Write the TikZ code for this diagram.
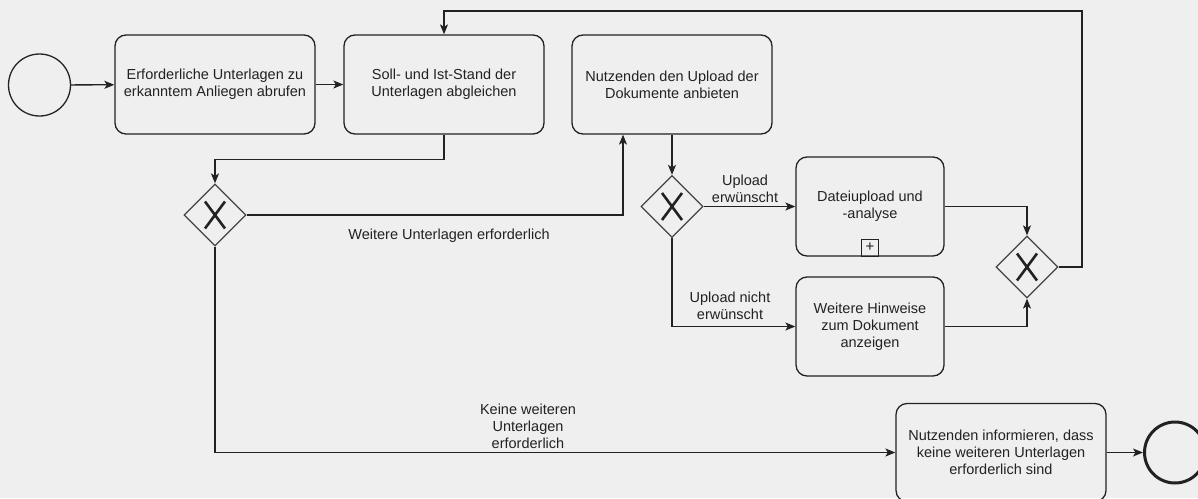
\documentclass[tikz,border=0pt]{standalone}
\usepackage{fontspec}
\setmainfont{Liberation Sans}
\usetikzlibrary{shapes.geometric,arrows.meta}
\definecolor{bg}{RGB}{239,239,239}
\definecolor{ink}{HTML}{222222}
\definecolor{gink}{HTML}{444444}
\tikzset{
  lbl/.style={font=\fontsize{14.5}{17}\selectfont, text=ink, align=center, inner sep=0pt},
  task/.style={draw=ink, line width=1.3pt, rounded corners=11pt, minimum width=200pt, minimum height=99pt, inner sep=0pt, lbl},
  gate/.style={draw=gink, line width=1.3pt, diamond, minimum width=62pt, minimum height=62pt, inner sep=0pt, aspect=1},
  flow/.style={draw=ink, line width=1.3pt, -{Stealth[length=10pt,width=8pt,inset=2.5pt]}},
  xmark/.style={draw=ink, line width=2.6pt}
}
\newcommand{\gatex}[1]{\draw[xmark] ([shift={(-10pt,-13.5pt)}]#1.center) -- ([shift={(10pt,13.5pt)}]#1.center);
  \draw[xmark] ([shift={(-10pt,13.5pt)}]#1.center) -- ([shift={(10pt,-13.5pt)}]#1.center);}
\begin{document}
\begin{tikzpicture}[x=1pt,y=-1pt]
\fill[bg] (0,0) rectangle (1198,498);
\clip (0,0) rectangle (1198,498);
% events
\node[circle, draw=ink, line width=1.3pt, minimum size=62pt, inner sep=0pt] (start) at (39.5,85) {};
\node[circle, draw=ink, line width=3pt, minimum size=61pt, inner sep=0pt] (end) at (1175,452.5) {};
% tasks
\node[task] (t1) at (215,84.5) {Erforderliche Unterlagen zu\\erkanntem Anliegen abrufen};
\node[task] (t2) at (444,84.5) {Soll- und Ist-Stand der\\Unterlagen abgleichen};
\node[task] (t3) at (672,84.5) {Nutzenden den Upload der\\Dokumente anbieten};
\node[task, minimum width=148pt] (t4) at (870,206.5) {Dateiupload und\\-analyse};
\node[task, minimum width=148pt] (t5) at (870,326.5) {Weitere Hinweise\\zum Dokument\\anzeigen};
\node[task, minimum width=210pt, minimum height=98pt] (t6) at (1001,452.5) {Nutzenden informieren, dass\\keine weiteren Unterlagen\\erforderlich sind};
% subprocess marker
\node[draw=ink, line width=1pt, minimum size=17pt, inner sep=0pt, anchor=south, font=\fontsize{15}{15}\selectfont, text=ink] (plus) at (t4.south) {+};
% gateways
\node[gate] (g1) at (215,215) {};
\node[gate] (g2) at (672,206.5) {};
\node[gate] (g3) at (1027,267) {};
\gatex{g1}
\gatex{g2}
\gatex{g3}
\coordinate (lp) at (1082,11);
% flows
\draw[flow] (start) -- (t1);
\draw[flow] (t1) -- (t2);
\draw[flow] (t2.south) -- ++(0,25) -| (g1.north);
\draw[flow] (g1.east) -| ([xshift=-49pt]t3.south);
\draw[flow] (t3.south) -- (g2.north);
\draw[flow] (g2.east) -- (t4.west);
\draw[flow] (g2.south) |- (t5.west);
\draw[flow] (t4.east) -| (g3.north);
\draw[flow] (t5.east) -| (g3.south);
\draw[flow] (g3.east) -| (lp) -| (t2.north);
\draw[flow] (g1.south) |- (t6.west);
\draw[flow] (t6) -- (end);
% labels
\node[lbl] (l1) at (449,236) {Weitere Unterlagen erforderlich};
\node[lbl] (l2) at (745,188.5) {Upload\\erwünscht};
\node[lbl] (l3) at (730,305.5) {Upload nicht\\erwünscht};
\node[lbl] (l4) at (528,426) {Keine weiteren\\Unterlagen\\erforderlich};
\end{tikzpicture}
\end{document}
